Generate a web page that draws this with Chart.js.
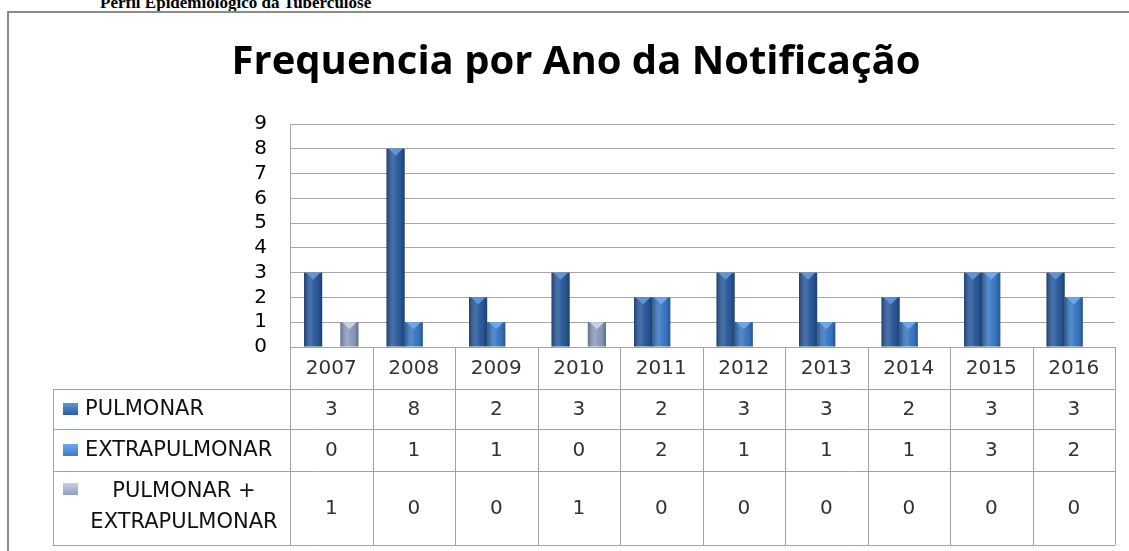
<!DOCTYPE html>
<html>
<head>
<meta charset="utf-8">
<script src="https://cdn.jsdelivr.net/npm/chart.js"></script>
<style>
  body { margin: 0; background: #fff; overflow: hidden; }
  #heading { position: absolute; left: 100px; top: -6px; font: bold 17px "Liberation Serif", serif; line-height: 17px; color: #000; white-space: nowrap; }
  #frame { position: absolute; left: 7px; top: 11px; width: 1130px; height: 560px; border-left: 2px solid #8a8a8a; border-top: 2px solid #8a8a8a; pointer-events: none; }
  #wrap { position: absolute; left: 0; top: 0; width: 1129px; height: 551px; }
</style>
</head>
<body>
<div id="heading">Perfil Epidemiológico da Tuberculose</div>
<div id="wrap"><canvas id="chart" width="1129" height="551"></canvas></div>
<div id="frame"></div>
<script>
var anos = ['2007', '2008', '2009', '2010', '2011', '2012', '2013', '2014', '2015', '2016'];
var pulmonar = [3, 8, 2, 3, 2, 3, 3, 2, 3, 3];
var extrapulmonar = [0, 1, 1, 0, 2, 1, 1, 1, 3, 2];
var pulmonarExtra = [1, 0, 0, 1, 0, 0, 0, 0, 0, 0];
var yTicks = [0, 1, 2, 3, 4, 5, 6, 7, 8, 9];

var cores = ['#2b5c9e', '#3a7bc8', '#8d9fc2'];
var topos = ['#5f95d8', '#6ea7ec', '#c6d1e4'];
var nomes = ['PULMONAR', 'EXTRAPULMONAR', 'PULMONAR + EXTRAPULMONAR'];
var valores = [pulmonar, extrapulmonar, pulmonarExtra];

var textFont = '"DejaVu Sans", sans-serif';

// shading + little triangle on top of each bar (excel 3D look)
var barShade = {
    id: 'barShade',
    afterDatasetsDraw: function(chart) {
        var ctx = chart.ctx;
        chart.data.datasets.forEach(function(ds, di) {
            var meta = chart.getDatasetMeta(di);
            meta.data.forEach(function(el) {
                var h = el.base - el.y;
                if (h <= 0) return;
                var l = el.x - el.width / 2, r = el.x + el.width / 2;
                var g = ctx.createLinearGradient(l, 0, r, 0);
                g.addColorStop(0, 'rgba(0,0,0,0.32)');
                g.addColorStop(0.4, 'rgba(255,255,255,0.12)');
                g.addColorStop(0.75, 'rgba(0,0,0,0.05)');
                g.addColorStop(1, 'rgba(0,0,0,0.30)');
                ctx.save();
                ctx.fillStyle = g;
                ctx.fillRect(l, el.y, el.width, h);
                ctx.beginPath();
                ctx.moveTo(l + 2, el.y);
                ctx.lineTo(r - 2, el.y);
                ctx.lineTo(el.x, el.y + Math.min(7, h));
                ctx.closePath();
                ctx.fillStyle = topos[di];
                ctx.fill();
                ctx.restore();
            });
        });
    }
};

function drawKey(ctx, x, y, di) {
    var g = ctx.createLinearGradient(x, y, x, y + 12);
    g.addColorStop(0, topos[di]);
    g.addColorStop(1, cores[di]);
    ctx.save();
    ctx.fillStyle = g;
    ctx.fillRect(x, y, 15, 12);
    ctx.restore();
}

// data table under the plot
var dataTable = {
    id: 'dataTable',
    afterDraw: function(chart) {
        var ctx = chart.ctx;
        var x = chart.scales.x;
        var area = chart.chartArea;
        var step = x.getPixelForValue(1) - x.getPixelForValue(0);
        var left0 = x.getPixelForValue(0) - step / 2;
        var tabLeft = 53;
        var rows = [area.bottom, area.bottom + 42, area.bottom + 82, area.bottom + 124, area.bottom + 198];
        ctx.save();
        ctx.strokeStyle = '#a3a3a3';
        ctx.lineWidth = 1;
        ctx.beginPath();
        rows.forEach(function(y, i) {
            var yy = Math.round(y) + 0.5;
            ctx.moveTo(i === 0 ? left0 : tabLeft, yy);
            ctx.lineTo(area.right, yy);
        });
        for (var i = 0; i <= anos.length; i++) {
            var xx = Math.round(left0 + i * step) + 0.5;
            ctx.moveTo(xx, rows[0]);
            ctx.lineTo(xx, rows[4]);
        }
        ctx.moveTo(tabLeft + 0.5, rows[1]);
        ctx.lineTo(tabLeft + 0.5, rows[4]);
        ctx.stroke();

        ctx.textAlign = 'center';
        ctx.textBaseline = 'middle';
        ctx.font = '20px ' + textFont;
        ctx.fillStyle = '#333';
        anos.forEach(function(a, i) {
            var cx = x.getPixelForValue(i);
            ctx.fillText(a, cx, (rows[0] + rows[1]) / 2 + 1);
            valores.forEach(function(v, r) {
                ctx.fillText(String(v[i]), cx, (rows[r + 1] + rows[r + 2]) / 2 + 1);
            });
        });

        drawKey(ctx, 63, (rows[1] + rows[2]) / 2 - 6, 0);
        drawKey(ctx, 63, (rows[2] + rows[3]) / 2 - 6, 1);
        drawKey(ctx, 63, rows[3] + 12, 2);
        ctx.fillStyle = '#111';
        ctx.font = '21px ' + textFont;
        ctx.textAlign = 'left';
        ctx.fillText('PULMONAR', 85, (rows[1] + rows[2]) / 2 + 1);
        ctx.fillText('EXTRAPULMONAR', 85, (rows[2] + rows[3]) / 2 + 1);
        ctx.textAlign = 'center';
        ctx.fillText('PULMONAR +', 184, rows[3] + 21);
        ctx.fillText('EXTRAPULMONAR', 184, rows[3] + 52);
        ctx.restore();
    }
};

var ctx = document.getElementById('chart').getContext('2d');
var chart = new Chart(ctx, {
    type: 'bar',
    data: {
        labels: anos,
        datasets: valores.map(function(v, i) {
            return {
                label: nomes[i],
                data: v,
                backgroundColor: cores[i],
                borderWidth: 0,
                categoryPercentage: 0.66,
                barPercentage: 1.0
            };
        })
    },
    options: {
        responsive: false,
        animation: false,
        devicePixelRatio: 1,
        layout: { padding: { left: 37, right: 14, top: 0, bottom: 204 } },
        plugins: {
            legend: { display: false },
            tooltip: { enabled: false },
            title: {
                display: true,
                text: 'Frequencia por Ano da Notificação',
                color: '#000',
                font: { family: '"Open Sans", sans-serif', size: 40, weight: 'bold' },
                padding: { top: 39, bottom: 37 }
            }
        },
        scales: {
            x: { display: false },
            y: {
                min: 0,
                max: 9,
                afterFit: function(scale) { scale.width = 253; },
                afterBuildTicks: function(scale) {
                    scale.ticks = yTicks.map(function(t) { return { value: t }; });
                },
                ticks: {
                    color: '#000',
                    padding: 23,
                    autoSkip: false,
                    font: { family: textFont, size: 20 }
                },
                grid: { color: '#a6a6a6', drawTicks: false },
                border: { color: '#a6a6a6' }
            }
        }
    },
    plugins: [barShade, dataTable]
});
</script>
</body>
</html>
